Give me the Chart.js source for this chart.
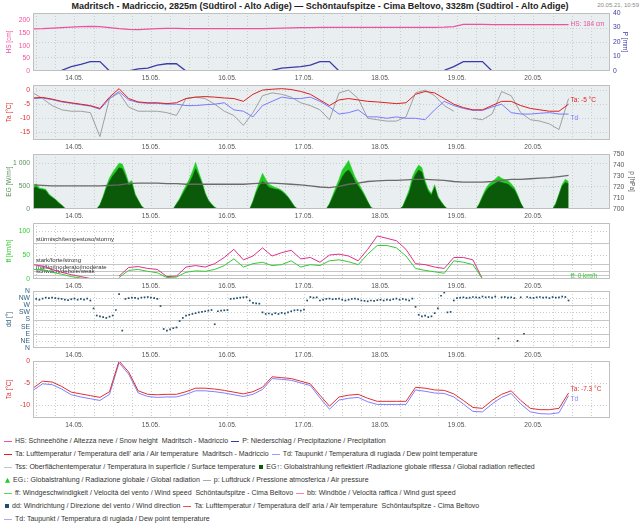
<!DOCTYPE html>
<html>
<head>
<meta charset="utf-8">
<script src="https://cdn.jsdelivr.net/npm/chart.js@4.4.0/dist/chart.umd.min.js"></script>
<style>
html, body { margin: 0; padding: 0; background: #fff; }
body { width: 640px; height: 524px; position: relative; overflow: hidden; font-family: "Liberation Sans", Arial, sans-serif; }
canvas { position: absolute; left: 0; }
#title { position: absolute; top: 1px; left: 0; width: 640px; text-align: center; font-weight: bold; font-size: 9px; line-height: 10px; color: #222; }
#stamp { position: absolute; top: 1px; right: 1px; font-size: 6px; line-height: 8px; color: #888; }
#legend { position: absolute; left: 3px; top: 434px; font-size: 7px; line-height: 13px; color: #333; white-space: pre; }
#legend i { display: inline-block; vertical-align: middle; margin: 0 3px 0 1px; }
#legend i.ln { width: 8px; height: 1.2px; }
#legend i.sq { width: 4px; height: 4px; margin-left: 2px; }
#legend i.tri { width: 5px; height: 5px; clip-path: polygon(50% 0, 100% 100%, 0 100%); margin-left: 2px; }
</style>
</head>
<body>
<div id="title">Madritsch - Madriccio, 2825m (Südtirol - Alto Adige) — Schöntaufspitze - Cima Beltovo, 3328m (Südtirol - Alto Adige)</div>
<div id="stamp">20.05.21, 10:59</div>
<div id="legend"><div><i class="ln" style="background:#f050a0"></i>HS: Schneehöhe / Altezza neve / Snow height  Madritsch - Madriccio <i class="ln" style="background:#3b3ba8"></i>P: Niederschlag / Precipitazione / Precipitation</div><div><i class="ln" style="background:#dd2020"></i>Ta: Lufttemperatur / Temperatura dell' aria / Air temperature  Madritsch - Madriccio <i class="ln" style="background:#9a9aff"></i>Td: Taupunkt / Temperatura di rugiada / Dew point temperature</div><div><i class="ln" style="background:#c4c4c4"></i>Tss: Oberflächentemperatur / Temperatura in superficie / Surface temperature <i class="sq" style="background:#0a5a0a"></i>EG↑: Globalstrahlung reflektiert /Radiazione globale riflessa / Global radiation reflected</div><div><i class="tri" style="background:#22cc22"></i>EG↓: Globalstrahlung / Radiazione globale / Global radiation <i class="ln" style="background:#aaaaaa"></i>p: Luftdruck / Pressione atmosferica / Air pressure</div><div><i class="ln" style="background:#55dd55"></i>ff: Windgeschwindigkeit / Velocità del vento / Wind speed  Schöntaufspitze - Cima Beltovo <i class="ln" style="background:#f080b8"></i>bb: Windböe / Velocità raffica / Wind gust speed</div><div><i class="sq" style="background:#1f4f6f"></i>dd: Windrichtung / Direzione del vento / Wind direction <i class="ln" style="background:#ee5050"></i>Ta: Lufttemperatur / Temperatura dell' aria / Air temperature  Schöntaufspitze - Cima Beltovo</div><div><i class="ln" style="background:#a8a8ff"></i>Td: Taupunkt / Temperatura di rugiada / Dew point temperature</div></div>
<script>
// Zeit in Stunden ab 13.05. 00:00
const dayLabels = ['14.05.', '15.05.', '16.05.', '17.05.', '18.05.', '19.05.', '20.05.'];
const dayTicks = [24, 48, 72, 96, 120, 144, 168];

const hours3 = [11, 14, 17, 20, 23, 26, 29, 32, 35, 38, 41, 44, 47, 50, 53, 56, 59, 62, 65, 68,
    71, 74, 77, 80, 83, 86, 89, 92, 95, 98, 101, 104, 107, 110, 113, 116, 119, 122, 125, 128,
    131, 134, 137, 140, 143, 146, 149, 152, 155, 158, 161, 164, 167, 170, 173, 176, 179];

const hourly = [11, 12, 13, 14, 15, 16, 17, 18, 19, 20, 21, 22, 23,
    24, 25, 26, 27, 28, 29, 30, 31, 32, 33, 34, 35, 36, 37, 38, 39, 40, 41, 42, 43, 44, 45, 46, 47,
    48, 49, 50, 51, 52, 53, 54, 55, 56, 57, 58, 59, 60, 61, 62, 63, 64, 65, 66, 67, 68, 69, 70, 71,
    72, 73, 74, 75, 76, 77, 78, 79, 80, 81, 82, 83, 84, 85, 86, 87, 88, 89, 90, 91, 92, 93, 94, 95,
    96, 97, 98, 99, 100, 101, 102, 103, 104, 105, 106, 107, 108, 109, 110, 111, 112, 113, 114, 115, 116, 117, 118, 119,
    120, 121, 122, 123, 124, 125, 126, 127, 128, 129, 130, 131, 132, 133, 134, 135, 136, 137, 138, 139, 140, 141, 142, 143,
    144, 145, 146, 147, 148, 149, 150, 151, 152, 153, 154, 155, 156, 157, 158, 159, 160, 161, 162, 163, 164, 165, 166, 167,
    168, 169, 170, 171, 172, 173, 174, 175, 176, 177, 178, 179];

// Madritsch
const hsCm = [167, 168, 170, 172, 174, 176, 177, 176, 172, 168, 165, 164, 166, 168, 169, 169, 168, 168, 168, 168,
    168, 168, 168, 168, 168, 169, 170, 171, 172, 172, 173, 173, 173, 173, 173, 173, 173, 173, 173, 173,
    173, 173, 173, 174, 176, 185, 185, 185, 184, 184, 184, 184, 184, 184, 184, 184, 184];
const precipMm = [0, 0, 0, 0.5, 3, 4.5, 6.5, 6.5, 0, 0, 0, 1.5, 2, 4, 5, 5, 0, 0, 0, 0,
    0, 0, 0, 0, 0, 0.5, 2, 2.5, 3, 4, 6.5, 6.5, 0, 0, 0, 0, 0, 0, 0, 0,
    0, 0, 0, 0.5, 3, 6.5, 6.5, 6.5, 0, 0, 0, 0.3, 0.3, 0.3, 0.3, 0.3, 0];
const taMad = [-2.8, -2.6, -3.2, -4.0, -4.5, -5.0, -5.5, -6.5, -2.5, 0.5, -3.0, -4.2, -4.5, -4.5, -4.8, -4.5, -3.0, -2.5, -2.3, -2.5,
    -2.8, -3.0, -4.0, -1.5, 0.0, 0.3, 0.5, 0.2, -0.5, -1.5, -3.5, -5.5, -3.5, -3.0, -3.5, -4.0, -4.2, -4.5, -4.8, -4.5,
    -1.5, -0.5, -1.0, -3.0, -5.0, -6.2, -7.0, -7.0, -5.5, -4.0, -4.0, -5.5, -6.5, -7.0, -7.5, -7.5, -5.0];
const tdMad = [-3.0, -2.8, -3.4, -4.2, -4.7, -5.2, -5.7, -6.8, -3.0, -0.5, -3.5, -4.4, -4.7, -4.7, -5.0, -5.0, -5.5, -5.5, -5.2, -5.0,
    -4.5, -7.0, -7.5, -9.5, -5.5, -4.0, -2.5, -3.0, -3.0, -2.5, -4.0, -6.0, -8.5, -8.0, -7.0, -9.5, -9.5, -10.0, -9.5, -10.0,
    -10.0, -10.5, -7.0, -4.0, -5.5, -6.5, -7.2, -7.2, -6.0, -5.0, -8.0, -8.5, -8.5, -8.2, -8.0, -8.5, -8.5];
const tssMad = [-1.0, -3.0, -5.5, -7.0, -7.5, -7.5, -8.0, -16.5, -3.0, -1.0, -6.0, -7.5, -7.5, -7.5, -8.0, -9.0, -3.0, -2.5, -3.0, -5.0,
    -7.5, -9.0, -12.5, -8.0, -2.0, -1.0, -1.5, -2.5, -4.5, -5.5, -7.0, -10.5, -1.0, 0.0, -3.0, -10.0, -10.5, -11.0, -11.0, -9.5,
    -1.0, 0.0, -2.0, -5.5, -7.5, null, -10.0, -10.5, -8.5, -0.5, -2.0, -8.0, -10.5, -11.0, -12.0, -14.0, -3.0];
const pressHpa = [722, 721.5, 721, 721, 721, 721, 721, 721, 721.5, 722, 723, 723.5, 723.5, 723.5, 723, 723, 722.5, 722.5, 722.5, 722.5,
    722.5, 722.5, 722.5, 723, 723.5, 723.5, 723, 722.5, 722, 721, 720, 719.5, 720.5, 722.5, 723.5, 725, 725.5, 726, 726, 726.5,
    727, 727, 726.5, 726, 725, 724.5, 724.5, 724.5, 725, 726, 727, 727, 727.5, 728, 728.5, 729.5, 730.5];
const egUp = [450, 480, 430, 420, 400, 300, 250, 200, 130, 80, 10, 0, 0,
    0, 0, 0, 0, 0, 0, 0, 0, 80, 250, 450, 600, 720, 800, 900, 880, 720, 520, 550, 300, 180, 60, 0, 0,
    0, 0, 0, 0, 0, 0, 0, 0, 100, 200, 330, 450, 560, 700, 880, 720, 550, 320, 180, 100, 30, 0, 0, 0,
    0, 0, 0, 0, 0, 0, 0, 0, 150, 350, 500, 600, 550, 470, 450, 430, 420, 380, 320, 250, 150, 50, 0, 0,
    0, 0, 0, 0, 0, 0, 0, 0, 100, 250, 400, 550, 700, 800, 850, 750, 600, 500, 400, 280, 150, 30, 0, 0,
    0, 0, 0, 0, 0, 0, 0, 50, 200, 350, 600, 750, 850, 800, 550, 380, 300, 480, 250, 150, 60, 0, 0, 0,
    0, 0, 0, 0, 0, 0, 0, 100, 250, 380, 470, 520, 560, 600, 580, 560, 540, 480, 420, 280, 120, 0, 0, 0,
    0, 0, 0, 0, 0, 0, 0, 100, 300, 500, 580, 550];
const egDown = [480, 550, 460, 450, 430, 330, 270, 220, 150, 90, 20, 0, 0,
    0, 0, 0, 0, 0, 0, 0, 0, 100, 280, 500, 680, 800, 900, 1000, 980, 800, 580, 620, 340, 200, 70, 0, 0,
    0, 0, 0, 0, 0, 0, 0, 0, 120, 230, 380, 520, 650, 820, 1020, 800, 600, 360, 200, 110, 40, 0, 0, 0,
    0, 0, 0, 0, 0, 0, 0, 0, 180, 400, 600, 780, 650, 540, 500, 470, 450, 410, 350, 270, 170, 60, 0, 0,
    0, 0, 0, 0, 0, 0, 0, 0, 120, 300, 480, 650, 850, 950, 1060, 880, 700, 580, 450, 320, 170, 40, 0, 0,
    0, 0, 0, 0, 0, 0, 0, 60, 240, 420, 700, 850, 960, 900, 620, 430, 340, 530, 280, 170, 70, 0, 0, 0,
    0, 0, 0, 0, 0, 0, 0, 120, 290, 440, 540, 600, 650, 720, 670, 640, 620, 550, 470, 310, 130, 0, 0, 0,
    0, 0, 0, 0, 0, 0, 0, 130, 330, 540, 650, 600];

// Schöntaufspitze
const gustKmh = [30, 27, 20, 14, 9, 5, 1, null, null, 6, 24, 26, 22, 20, 5, 6, 25, 28, 25, 32,
    45, 62, 40, 48, 65, 48, 55, 60, 42, 45, 35, 50, 52, 48, 38, 62, 90, 85, 80, 62,
    32, 30, 25, 22, 45, 45, 40, 0, null, null, null, null, null, null, null, null, null];
const windKmh = [20, 20, 14, 10, 5, 2, 0, null, null, 3, 18, 20, 16, 13, 3, 4, 14, 17, 16, 20,
    28, 42, 25, 32, 35, 28, 30, 38, 25, 30, 28, 38, 40, 36, 30, 52, 70, 70, 65, 48,
    22, 18, 15, 12, 38, 35, 30, 0, null, null, null, null, null, null, null, null, null];
const dirDeg = [315, 310, 305, 312, 318, 315, 318, 315, 312, 310, 305, 302, 308,
    312, 305, 310, 306, 312, 300, 250, 205, 200, 195, 190, 198, 205, 240, 340, 110, 310, 315, 318, 316, 312, 318, 320, 322,
    318, 315, 310, 265, 120, 110, 118, 125, 130, 170, 190, 205, 210, 215, 220, 225, 228, 232, 236, 240, 150, 232, 236, 238,
    240, 310, 312, 315, 318, 320, 322, 300, 285, 282, 280, 225, 215, 218, 212, 220, 215, 222, 218, 225, 232, 238, 240, 236,
    242, 300, 322, 318, 320, 300, 305, 310, 312, 308, 310, 312, 305, 300, 305, 310, 312, 308, 300, 298, 295, 300, 298, 302,
    305, 300, 305, 302, 308, 312, 305, 310, 305, 300, 312, 260, 210, 200, 205, 195, 200, 220, 250, 330, 350, 225, 228, 300,
    315, 318, 320, 316, 318, 322, 320, 318, 325, 320, 322, 318, 325, 60, 320, 322, 318, 320, 315, 45, 320, 90, 322, 318,
    316, 320, 322, 318, 320, 315, 322, 318, 320, 325, 322, 300];
const taSch = [-6.2, -4.6, -4.8, -5.8, -7.1, -7.5, -7.9, -8.3, -7.0, 0.0, -2.5, -6.8, -7.6, -7.7, -7.6, -7.6, -7.0, -6.2, -6.2, -6.4,
    -6.7, -7.1, -7.5, -7.0, -6.0, -3.6, -3.8, -4.0, -4.6, -5.2, -7.8, -10.3, -8.2, -7.8, -7.6, -8.5, -9.2, -9.2, -9.2, -9.2,
    -6.0, -6.2, -6.6, -6.7, -7.5, -9.0, -10.6, -10.8, -9.0, -7.6, -6.8, -9.0, -10.8, -11.1, -11.1, -10.8, -7.3];
const tdSch = [-6.7, -5.2, -5.4, -6.4, -7.7, -8.2, -8.6, -9.0, -7.6, -0.4, -3.0, -7.3, -8.1, -8.3, -8.2, -8.2, -7.6, -6.8, -6.8, -7.0,
    -7.3, -7.7, -8.1, -7.6, -6.5, -4.0, -4.2, -4.4, -5.0, -5.6, -8.4, -11.0, -8.9, -8.5, -8.3, -9.3, -9.9, -9.9, -9.9, -9.9,
    -6.6, -6.9, -7.3, -7.4, -8.2, -9.8, -11.5, -11.6, -9.8, -8.3, -7.4, -9.8, -11.6, -12.0, -12.1, -11.8, -7.9];

// Achsenbeschriftungen
const hsTicks = [0, 50, 100, 150, 200];
const pTicks = [0, 10, 20, 30, 40];
const taTicks = [0, -5, -10, -15];
const egTicks = [0, 500, 1000];
const egTickLabels = ['0', '500', '1 000'];
const pressTicks = [700, 710, 720, 730, 740, 750];
const ffTicks = [0, 50, 100];
const ddTicks = [0, 45, 90, 135, 180, 225, 270, 315, 360];
const ddLabels = ['N', 'NE', 'E', 'SE', 'S', 'SW', 'W', 'NW', 'N'];
const ta2Ticks = [0, -5, -10];
const windClasses = [75, 32, 16, 9];
const windClassLabels = ['stürmisch/tempestoso/stormy', 'stark/forte/strong', 'mäßig/moderato/moderate', 'schwach/debole/weak'];

const FONT = '"Liberation Sans", Arial, sans-serif';
Chart.defaults.font.family = FONT;
Chart.defaults.animation = false;

const gridHours = [];
for (let h = 12; h < 192; h += 6) gridHours.push(h);
const nowHour = hours3[hours3.length - 1];

function pts(xs, ys) {
    return xs.map((x, i) => ({ x: x, y: ys[i] }));
}

const framePlugin = {
    id: 'frame',
    beforeDatasetsDraw(chart, args, o) {
        const { ctx, chartArea: a, scales } = chart;
        ctx.save();
        ctx.fillStyle = o.bg || '#fff';
        ctx.fillRect(a.left, a.top, a.right - a.left, a.bottom - a.top);
        ctx.lineWidth = 1;
        ctx.strokeStyle = '#cdcdcd';
        ctx.setLineDash([1, 2]);
        ctx.beginPath();
        gridHours.forEach(v => {
            const x = Math.round(scales.x.getPixelForValue(v)) + 0.5;
            ctx.moveTo(x, a.top);
            ctx.lineTo(x, a.bottom);
        });
        (o.dotted || []).forEach(v => {
            const y = Math.round(scales[o.axis].getPixelForValue(v)) + 0.5;
            ctx.moveTo(a.left, y);
            ctx.lineTo(a.right, y);
        });
        ctx.stroke();
        ctx.setLineDash([]);
        if (o.solid) {
            ctx.strokeStyle = '#c6c6c6';
            ctx.beginPath();
            o.solid.forEach(v => {
                const y = Math.round(scales[o.axis].getPixelForValue(v)) + 0.5;
                ctx.moveTo(a.left, y);
                ctx.lineTo(a.right, y);
            });
            ctx.stroke();
        }
        if (o.bandLabels) {
            ctx.fillStyle = '#333';
            ctx.font = '6px ' + FONT;
            ctx.textBaseline = 'bottom';
            o.bandLabels.forEach((t, i) => {
                const y = scales[o.axis].getPixelForValue(o.solid[i]);
                ctx.fillText(t, a.left + 3, y - 0.5);
            });
        }
        ctx.restore();
    },
    afterDatasetsDraw(chart, args, o) {
        const { ctx, chartArea: a, scales } = chart;
        ctx.save();
        ctx.strokeStyle = '#c0c0c0';
        ctx.lineWidth = 1;
        ctx.strokeRect(a.left + 0.5, a.top + 0.5, a.right - a.left - 1, a.bottom - a.top - 1);
        (o.tags || []).forEach(t => {
            const ds = chart.data.datasets[t.ds];
            let last = null;
            ds.data.forEach(p => { if (p.y !== null) last = p.y; });
            const y = scales[ds.yAxisID || 'y'].getPixelForValue(last) + t.dy;
            ctx.fillStyle = t.color;
            ctx.font = '6.5px ' + FONT;
            ctx.textBaseline = 'middle';
            ctx.fillText(t.text, scales.x.getPixelForValue(nowHour) + 2, y);
        });
        ctx.restore();
    }
};
Chart.register(framePlugin);

function xAxis() {
    return {
        type: 'linear', min: 11, max: 192,
        grid: { display: false, drawTicks: false }, border: { display: false },
        afterBuildTicks: s => { s.ticks = gridHours.map(v => ({ value: v })); },
        afterFit: s => { s.height = 14; },
        ticks: {
            autoSkip: false, maxRotation: 0, padding: 3, color: '#555', font: { size: 6.6 },
            callback: v => { const i = dayTicks.indexOf(v); return i >= 0 ? dayLabels[i] : ''; }
        }
    };
}

function yAxis(pos, min, max, ticks, labels, color, title, titlePad) {
    return {
        type: 'linear', position: pos, min: min, max: max,
        grid: { display: false, drawTicks: false }, border: { display: false },
        afterBuildTicks: s => { s.ticks = ticks.map(v => ({ value: v })); },
        afterFit: s => { s.width = pos === 'left' ? 33 : 30; },
        ticks: {
            autoSkip: false, color: color, padding: 3, font: { size: 6.8 },
            callback: v => { const i = ticks.indexOf(v); return labels ? labels[i] : String(v); }
        },
        title: { display: true, text: title, color: color, font: { size: 6.5 }, padding: { top: titlePad, bottom: 0 } }
    };
}

function panel(top, bottom, noRight, config) {
    const cv = document.createElement('canvas');
    const h = bottom - top + 8 + 14;
    cv.width = 640;
    cv.height = h;
    cv.style.top = (top - 8) + 'px';
    document.body.appendChild(cv);
    config.options.responsive = false;
    config.options.layout = { padding: { top: 8, bottom: 0, left: 0, right: noRight ? 30 : 0 } };
    config.options.plugins.legend = { display: false };
    config.options.plugins.tooltip = { enabled: false };
    return new Chart(cv, config);
}

function line(data, color, width, axis) {
    return { data: data, borderColor: color, borderWidth: width, pointRadius: 0, tension: 0, fill: false, yAxisID: axis || 'y' };
}

// Schneehöhe + Niederschlag
panel(13, 71, false, {
    type: 'line',
    data: { datasets: [
        line(pts(hours3, hsCm), '#f050a0', 1.3),
        line(pts(hours3, precipMm), '#3b3ba8', 1.3, 'yP')
    ] },
    options: {
        scales: {
            x: xAxis(),
            y: yAxis('left', 0, 230, hsTicks, null, '#f050a0', 'HS [cm]', 5),
            yP: yAxis('right', 0, 40, pTicks, null, '#3b3ba8', 'P [mm]', 11)
        },
        plugins: { frame: { bg: '#e9eef1', axis: 'yP', dotted: [10, 20, 30],
            tags: [{ ds: 0, text: 'HS: 184 cm', color: '#f050a0', dy: 0 }] } }
    }
});

// Temperaturen Madritsch
panel(85, 140, true, {
    type: 'line',
    data: { datasets: [
        line(pts(hours3, taMad), '#dd2020', 1),
        line(pts(hours3, tdMad), '#7b7bff', 1),
        line(pts(hours3, tssMad), '#a0a0a0', 1)
    ] },
    options: {
        scales: { x: xAxis(), y: yAxis('left', -17.7, 1.8, taTicks, null, '#e03030', 'Ta [°C]', 5) },
        plugins: { frame: { bg: '#e9eef1', axis: 'y', dotted: [0, -5, -10, -15],
            tags: [{ ds: 0, text: 'Ta: -5 °C', color: '#dd2020', dy: -4 }, { ds: 1, text: 'Td', color: '#7b7bff', dy: 4 }] } }
    }
});

// Strahlung + Luftdruck
panel(154, 209, false, {
    type: 'line',
    data: { datasets: [
        line(pts(hours3, pressHpa), '#6a6a6a', 1.3, 'yp'),
        Object.assign(line(pts(hourly, egUp), '#0a5a0a', 0.5), { fill: 'origin', backgroundColor: '#0a5a0a' }),
        Object.assign(line(pts(hourly, egDown), '#22cc22', 0.5), { fill: 'origin', backgroundColor: '#22cc22' })
    ] },
    options: {
        scales: {
            x: xAxis(),
            y: yAxis('left', 0, 1200, egTicks, egTickLabels, '#5a905a', 'EG [W/m²]', 5),
            yp: yAxis('right', 700, 750, pressTicks, null, '#555', 'p [hPa]', 4)
        },
        plugins: { frame: { bg: '#e9eef1', axis: 'y', dotted: [500, 1000] } }
    }
});

// Wind
panel(223, 279, true, {
    type: 'line',
    data: { datasets: [
        line(pts(hours3, windKmh), '#33cc33', 1),
        line(pts(hours3, gustKmh), '#e0308a', 1)
    ] },
    options: {
        scales: { x: xAxis(), y: yAxis('left', 0, 117, ffTicks, null, '#33cc33', 'ff [km/h]', 5) },
        plugins: { frame: { bg: '#fff', axis: 'y', dotted: [50, 100], solid: windClasses, bandLabels: windClassLabels,
            tags: [{ ds: 0, text: 'ff: 0 km/h', color: '#33cc33', dy: -3 }] } }
    }
});

// Windrichtung
panel(291, 348, true, {
    type: 'scatter',
    data: { datasets: [{
        data: pts(hourly, dirDeg), pointRadius: 1.2, pointStyle: 'rect',
        backgroundColor: '#1f4f6f', borderColor: '#1f4f6f', borderWidth: 0, showLine: false
    }] },
    options: {
        scales: { x: xAxis(), y: yAxis('left', 0, 360, ddTicks, ddLabels, '#2d5f80', 'dd [°]', 5) },
        plugins: { frame: { bg: '#fff', axis: 'y', dotted: [45, 135, 225, 315], solid: [90, 180, 270] } }
    }
});

// Temperaturen Schöntaufspitze
panel(361, 418, true, {
    type: 'line',
    data: { datasets: [
        line(pts(hours3, taSch), '#e03030', 1),
        line(pts(hours3, tdSch), '#8080ff', 1)
    ] },
    options: {
        scales: { x: xAxis(), y: yAxis('left', -13, 0, ta2Ticks, null, '#e03030', 'Ta [°C]', 5) },
        plugins: { frame: { bg: '#fff', axis: 'y', dotted: [-5, -10],
            tags: [{ ds: 0, text: 'Ta: -7.3 °C', color: '#e03030', dy: -4 }, { ds: 1, text: 'Td', color: '#8080ff', dy: 4 }] } }
    }
});
</script>
</body>
</html>
